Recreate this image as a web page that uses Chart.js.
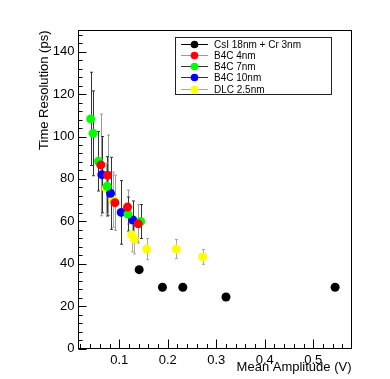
<!DOCTYPE html>
<html>
<head>
<meta charset="utf-8">
<script src="https://cdn.jsdelivr.net/npm/chart.js@4.4.1/dist/chart.umd.min.js"></script>
<style>
  html, body { margin: 0; padding: 0; background: #fff; }
  #wrap { width: 390px; height: 379px; }
</style>
</head>
<body>
<div id="wrap"><canvas id="chart"></canvas></div>
<script>
// series labels and colours
const seriesNames = ['CsI 18nm + Cr 3nm', 'B4C 4nm', 'B4C 7nm', 'B4C 10nm', 'DLC 2.5nm'];
const markerColors = ['#000000', '#ff0000', '#00ff00', '#0000ff', '#ffff00'];
const lineColors = ['#000000', '#9a9a9a', '#333333', '#333333', '#a8a8a8'];

// CsI 18nm + Cr 3nm
const csiX = [0.141, 0.189, 0.231, 0.320, 0.545];
const csiY = [37.2, 28.9, 28.9, 24.3, 28.9];
const csiErr = [0.6, 0.5, 0.5, 0.5, 0.5];

// B4C 4nm
const b4c4X = [0.062, 0.076, 0.091, 0.117, 0.139];
const b4c4Y = [86.6, 81.7, 68.8, 66.7, 58.8];
const b4c4Err = [24, 19, 13, 8, 9];

// B4C 7nm
const b4c7X = [0.041, 0.046, 0.057, 0.075, 0.118, 0.144];
const b4c7Y = [108.3, 101.5, 88.3, 76.5, 63.4, 59.9];
const b4c7Err = [22, 20, 14, 14, 8, 8];

// B4C 10nm
const b4c10X = [0.064, 0.082, 0.104, 0.128];
const b4c10Y = [82.0, 73.2, 64.2, 60.6];
const b4c10Err = [18, 17, 15, 9];

// DLC 2.5nm
const dlcX = [0.073, 0.087, 0.1255, 0.131, 0.1565, 0.2175, 0.272];
const dlcY = [75.5, 70.2, 53.6, 51.6, 46.9, 46.9, 43.2];
const dlcErr = [12, 13, 8, 7, 5, 4.5, 3.5];

// axis ticks
const xTicks = [0.1, 0.2, 0.3, 0.4, 0.5];
const yTicks = [0, 20, 40, 60, 80, 100, 120, 140];

const allX = [csiX, b4c4X, b4c7X, b4c10X, dlcX];
const allY = [csiY, b4c4Y, b4c7Y, b4c10Y, dlcY];
const allErr = [csiErr, b4c4Err, b4c7Err, b4c10Err, dlcErr];

const datasets = seriesNames.map((name, i) => ({
  label: name,
  data: allX[i].map((x, j) => ({ x: x, y: allY[i][j], err: allErr[i][j] })),
  backgroundColor: markerColors[i],
  borderColor: markerColors[i],
  borderWidth: 0,
  pointRadius: 4.5,
  pointHoverRadius: 4.5,
  errColor: lineColors[i],
  showLine: false
}));

const rootStyle = {
  id: 'rootStyle',
  beforeDatasetsDraw(chart) {
    const ctx = chart.ctx;
    const xs = chart.scales.x, ys = chart.scales.y;
    ctx.save();
    ctx.lineWidth = 1;
    chart.data.datasets.forEach(ds => {
      ctx.strokeStyle = ds.errColor;
      ds.data.forEach(p => {
        const px = Math.round(xs.getPixelForValue(p.x)) + 0.5;
        const y1 = ys.getPixelForValue(p.y + p.err);
        const y2 = ys.getPixelForValue(p.y - p.err);
        ctx.beginPath();
        ctx.moveTo(px, y1); ctx.lineTo(px, y2);
        ctx.moveTo(px - 1.5, y1); ctx.lineTo(px + 1.5, y1);
        ctx.moveTo(px - 1.5, y2); ctx.lineTo(px + 1.5, y2);
        ctx.stroke();
      });
    });
    ctx.restore();
  },
  afterDraw(chart) {
    const ctx = chart.ctx;
    const a = chart.chartArea;
    const xs = chart.scales.x, ys = chart.scales.y;
    ctx.save();
    ctx.strokeStyle = '#000';
    ctx.lineWidth = 1;
    // frame
    ctx.strokeRect(a.left, a.top, a.right - a.left, a.bottom - a.top);
    // x ticks
    ctx.beginPath();
    for (let v = 0.02; v < xs.max; v += 0.02) {
      if (v < xs.min) continue;
      const px = Math.round(xs.getPixelForValue(v)) + 0.5;
      const major = Math.abs(v * 10 - Math.round(v * 10)) < 1e-6;
      ctx.moveTo(px, a.bottom);
      ctx.lineTo(px, a.bottom - (major ? 9 : 4.5));
    }
    // y ticks
    for (let v = 0; v < ys.max; v += 4) {
      const py = Math.round(ys.getPixelForValue(v)) + 0.5;
      const major = v % 20 === 0;
      ctx.moveTo(a.left, py);
      ctx.lineTo(a.left + (major ? 8 : 4), py);
    }
    ctx.stroke();

    // legend
    const lx = 175.5, ly = 37.5, lw = 156, lh = 57;
    ctx.fillStyle = '#fff';
    ctx.fillRect(lx, ly, lw, lh);
    ctx.strokeStyle = '#222';
    ctx.strokeRect(lx, ly, lw, lh);
    ctx.font = '10px "Liberation Sans", Arial, sans-serif';
    ctx.textBaseline = 'middle';
    chart.data.datasets.forEach((ds, i) => {
      const ry = Math.round(ly + 6 + i * 11.3) + 0.5;
      ctx.strokeStyle = ds.errColor;
      ctx.beginPath();
      ctx.moveTo(181, ry); ctx.lineTo(208, ry);
      ctx.stroke();
      ctx.fillStyle = ds.backgroundColor;
      ctx.beginPath();
      ctx.arc(194.5, ry, 3.8, 0, Math.PI * 2);
      ctx.fill();
      ctx.fillStyle = '#000';
      ctx.fillText(ds.label, 214, ry + 0.5);
    });
    ctx.restore();
  }
};

const font = { family: '"Liberation Sans", Arial, sans-serif', size: 13 };

new Chart(document.getElementById('chart').getContext('2d'), {
  type: 'scatter',
  data: { datasets: datasets },
  options: {
    responsive: true,
    maintainAspectRatio: false,
    animation: false,
    events: [],
    layout: { padding: { left: 0, right: 38.5, top: 30.5, bottom: 0 } },
    plugins: { legend: { display: false }, tooltip: { enabled: false } },
    scales: {
      x: {
        type: 'linear',
        min: 0.0159,
        max: 0.5788,
        afterBuildTicks: s => { s.ticks = xTicks.map(v => ({ value: v })); },
        afterFit: s => { s.height = 30.5; },
        grid: { display: false, drawTicks: false },
        border: { display: true, color: '#000', width: 1 },
        ticks: { color: '#000', font: font, padding: 4, maxRotation: 0,
          callback: v => v.toFixed(1) },
        title: { display: true, text: 'Mean Amplitude (V)', align: 'end', color: '#000',
          font: font, padding: { top: 0, bottom: 4 } }
      },
      y: {
        type: 'linear',
        min: 0,
        max: 150,
        afterBuildTicks: s => { s.ticks = yTicks.map(v => ({ value: v })); },
        afterFit: s => { s.width = 78.5; },
        grid: { display: false, drawTicks: false },
        border: { display: true, color: '#000', width: 1 },
        ticks: { color: '#000', font: font, padding: 4 },
        title: { display: true, text: 'Time Resolution (ps)', align: 'end', color: '#000',
          font: font, padding: { top: 37, bottom: 0 } }
      }
    }
  },
  plugins: [rootStyle]
});
</script>
</body>
</html>
